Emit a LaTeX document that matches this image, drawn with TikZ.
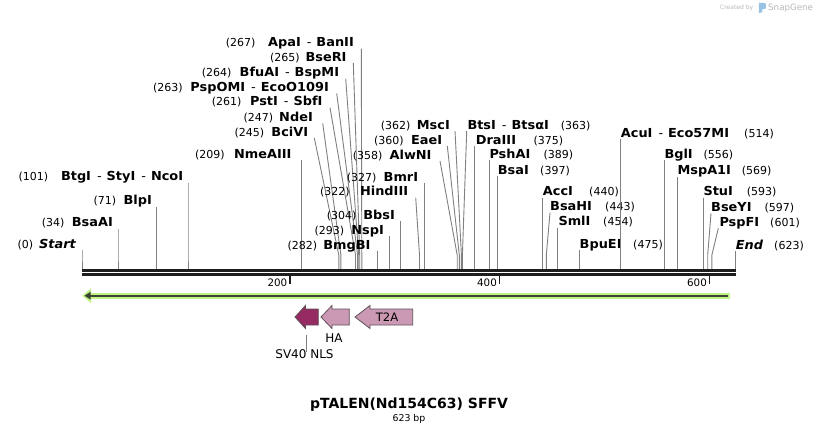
\documentclass[tikz,border=0pt]{standalone}
\usepackage{fontspec}
\setmainfont{DejaVu Sans}
\newfontfamily\namefont{DejaVu Sans}[FakeStretch=1.04]
\definecolor{sitegray}{RGB}{128,128,128}
\definecolor{bbone}{RGB}{30,30,30}
\definecolor{lgreen}{RGB}{192,242,135}
\definecolor{dgreen}{RGB}{58,68,50}
\definecolor{nlsfill}{RGB}{150,42,98}
\definecolor{pinkfill}{RGB}{204,153,180}
\definecolor{featedge}{RGB}{95,80,88}
\definecolor{sgray}{RGB}{185,185,185}
\definecolor{sblue}{RGB}{150,195,230}
\tikzset{
  numf/.style={inner sep=0pt, font=\fontsize{11}{13}\selectfont},
  namef/.style={inner sep=0pt, font=\namefont\fontsize{12.4}{14}\selectfont\bfseries},
  site/.style={draw=sitegray, line width=0.9pt},
  rtick/.style={draw=bbone, line width=1.6pt},
  ticklab/.style={inner sep=0pt, font=\fontsize{10.3}{12}\selectfont},
  featlab/.style={inner sep=0pt, font=\fontsize{12}{14}\selectfont},
}
\newcommand\dsh{\hspace{6pt}{\mdseries -}\hspace{5pt}}
% left label: id, number start x, name end x, y, number, name, line top x, backbone x
\newcommand\siteL[8]{%
  \node[namef, anchor=base east] (n#1) at (#3,{#4+4.3}) {#6};
  \node[numf, anchor=base west] (m#1) at (#2,{#4+4.3}) {(#5)};
  \coordinate (t#1) at (#7,{#4+6});
  \coordinate (k#1) at (#8,255);
  \coordinate (b#1) at (#8,269);
  \draw[site] (t#1) -- (k#1) -- (b#1);
}
% right label: id, name start x, number end x, y, number, name, line top x, backbone x
\newcommand\siteR[8]{%
  \node[namef, anchor=base west] (n#1) at (#2,{#4+4.3}) {#6};
  \node[numf, anchor=base east] (m#1) at (#3,{#4+4.3}) {(#5)};
  \coordinate (t#1) at (#7,{#4+6});
  \coordinate (k#1) at (#8,255);
  \coordinate (b#1) at (#8,269);
  \draw[site] (t#1) -- (k#1) -- (b#1);
}
% leftward feature arrow: tip x, head base x, end x, y centre, head half, body half, fill, edge
\newcommand\featL[8]{%
  \filldraw[fill=#7, draw=#8, line width=0.8pt, line join=miter]
    (#1,#4) -- (#2,{#4-#5}) -- (#2,{#4-#6}) -- (#3,{#4-#6}) -- (#3,{#4+#6})
    -- (#2,{#4+#6}) -- (#2,{#4+#5}) -- cycle;
}
\begin{document}
\begin{tikzpicture}[x=1pt,y=-1pt]
\useasboundingbox (0,0) rectangle (818,435);
\fill[white] (0,0) rectangle (818,435);

% watermark
\node[inner sep=0pt, anchor=base west, text=sgray, font=\fontsize{6}{7}\selectfont] (cb) at (720,10) {Created by};
\coordinate (lg1) at (759,3);
\coordinate (lg2) at (759,13);
\filldraw[fill=sblue, draw=sblue, line width=0.3pt] (lg1) -- (lg2) -- ++(3,-1) -- ++(0,-3) .. controls ++(4,0) and ++(0,3) .. ++(4,-4) .. controls ++(0,-2.5) and ++(3,0) .. (lg1) -- cycle;
\node[inner sep=0pt, anchor=base west, text=sgray, font=\fontsize{8.7}{10}\selectfont] (sg) at (768,11) {SnapGene};

% sites
\siteL{a}{17.3}{76}{244}{0}{\itshape Start}{82}{82}
\siteL{b}{41.7}{113}{222.7}{34}{BsaAI}{118}{118}
\siteL{c}{93.3}{152}{200.7}{71}{BlpI}{156.4}{156.4}
\siteL{d}{18.3}{183.3}{176.7}{101}{BtgI\dsh StyI\dsh NcoI}{188}{188}
\siteL{e}{195}{291.7}{154}{209}{NmeAIII}{301.3}{301.3}
\siteL{f}{234.3}{308.3}{132}{245}{BciVI}{314.3}{338.8}
\siteL{g}{243.3}{313}{117.3}{247}{NdeI}{322.7}{340.9}
\siteL{h}{211.7}{322.7}{101.7}{261}{PstI\dsh SbfI}{330}{355.5}
\siteL{i}{153}{329}{87.3}{263}{PspOMI\dsh EcoO109I}{336.7}{357.6}
\siteL{j}{201.7}{339.3}{72.7}{264}{BfuAI\dsh BspMI}{345.7}{358.7}
\siteL{k}{270}{346.7}{57}{265}{BseRI}{353.3}{359.7}
\siteL{l}{225.7}{354}{42.7}{267}{ApaI\dsh BanII}{361.3}{361.8}
\siteL{m}{287.3}{370.7}{245}{282}{BmgBI}{377.6}{377.6}
\siteL{n}{314.3}{384}{230}{293}{NspI}{389.2}{389.2}
\siteL{o}{326.7}{395}{215}{304}{BbsI}{400.4}{400.4}
\siteL{p}{320}{408.3}{191.7}{322}{HindIII}{415.7}{419.5}
\siteL{q}{346.7}{418.3}{177.3}{327}{BmrI}{424.6}{424.6}
\siteL{r}{352.7}{431.7}{155}{358}{AlwNI}{440}{457.2}
\siteL{s}{374}{442.3}{140}{360}{EaeI}{447.3}{459.3}
\siteL{u}{380.7}{450}{125}{362}{MscI}{455}{461.4}

\siteR{v}{467.3}{590.7}{125}{363}{BtsI\dsh BtsαI}{466.7}{462.4}
\siteR{w}{475.7}{563.3}{140}{375}{DraIII}{474.8}{474.8}
\siteR{x}{489.3}{573.3}{154.3}{389}{PshAI}{489.5}{489.5}
\siteR{y}{497.7}{570}{170}{397}{BsaI}{497.6}{497.6}
\siteR{z}{542.7}{619}{191.7}{440}{AccI}{542.8}{542.8}
\siteR{aa}{550}{635}{206.7}{443}{BsaHI}{550}{546.3}
\siteR{ab}{558.3}{633}{221.7}{454}{SmlI}{557.5}{557.5}
\siteR{ac}{579.5}{663}{244.5}{475}{BpuEI}{579.5}{579.5}
\siteR{ad}{620.7}{774}{133.3}{514}{AcuI\dsh Eco57MI}{620.7}{620.7}
\siteR{ae}{664.3}{733.3}{154.3}{556}{BglI}{664.5}{664.5}
\siteR{af}{677.3}{771.7}{170.7}{569}{MspA1I}{677.8}{677.8}
\siteR{ag}{703.3}{776.7}{191.7}{593}{StuI}{703.4}{703.4}
\siteR{ah}{711}{794.3}{207.3}{597}{BseYI}{711}{707.7}
\siteR{ai}{719.3}{800}{222.3}{601}{PspFI}{718.3}{711.9}
\siteR{aj}{735.7}{804}{245}{623}{\itshape End}{735.5}{735.5}

% backbone
\coordinate (bbL1) at (82,270.3);
\coordinate (bbR1) at (735.5,270.3);
\coordinate (bbL2) at (82,274.7);
\coordinate (bbR2) at (735.5,274.7);
\draw[bbone, line width=2.7pt] (bbL1) -- (bbR1);
\draw[bbone, line width=2.7pt] (bbL2) -- (bbR2);

% ruler ticks
\draw[rtick] (290,276) -- (290,283.5);
\draw[rtick] (499.5,276) -- (499.5,283.5);
\draw[rtick] (709.5,276) -- (709.5,283.5);
\node[ticklab, anchor=base east] (r200) at (287.5,286.6) {200};
\node[ticklab, anchor=base east] (r400) at (497,286.6) {400};
\node[ticklab, anchor=base east] (r600) at (707,286.6) {600};

% green strand arrow
\coordinate (gR) at (730,295.7);
\coordinate (gL) at (90,295.7);
\draw[lgreen, line width=6pt] (gR) -- (gL);
\fill[lgreen] (82.3,295.7) -- (91,288.3) -- (91,303.1) -- cycle;
\draw[dgreen, line width=2pt] (727.5,295.7) -- (89,295.7);
\fill[dgreen] (84.5,295.7) -- (90.5,291.8) -- (90.5,299.6) -- cycle;

% features
\featL{295}{305.5}{318.3}{317}{11.5}{8}{nlsfill}{featedge}
\featL{321}{332}{349.3}{317}{11.5}{8}{pinkfill}{featedge}
\featL{355}{370}{412.7}{317}{11.5}{8}{pinkfill}{featedge}
\node[inner sep=0pt, font=\fontsize{11.6}{13}\selectfont] (t2a) at (387,317.3) {T2A};
\node[featlab] (ha) at (334,338) {HA};
\node[featlab] (nls) at (304.5,354) {SV40 NLS};
\coordinate (nlst) at (306.5,334.5);
\draw[sitegray, line width=0.8pt] (nlst) -- ([yshift=-2.5pt]nls.north -| nlst);

% title
\node[inner sep=0pt, font=\fontsize{14}{16}\selectfont\bfseries] (title) at (409,405) {pTALEN(Nd154C63) SFFV};
\node[inner sep=0pt, font=\fontsize{9.4}{11}\selectfont] (bp) at (409,419.3) {623 bp};
\end{tikzpicture}
\end{document}
